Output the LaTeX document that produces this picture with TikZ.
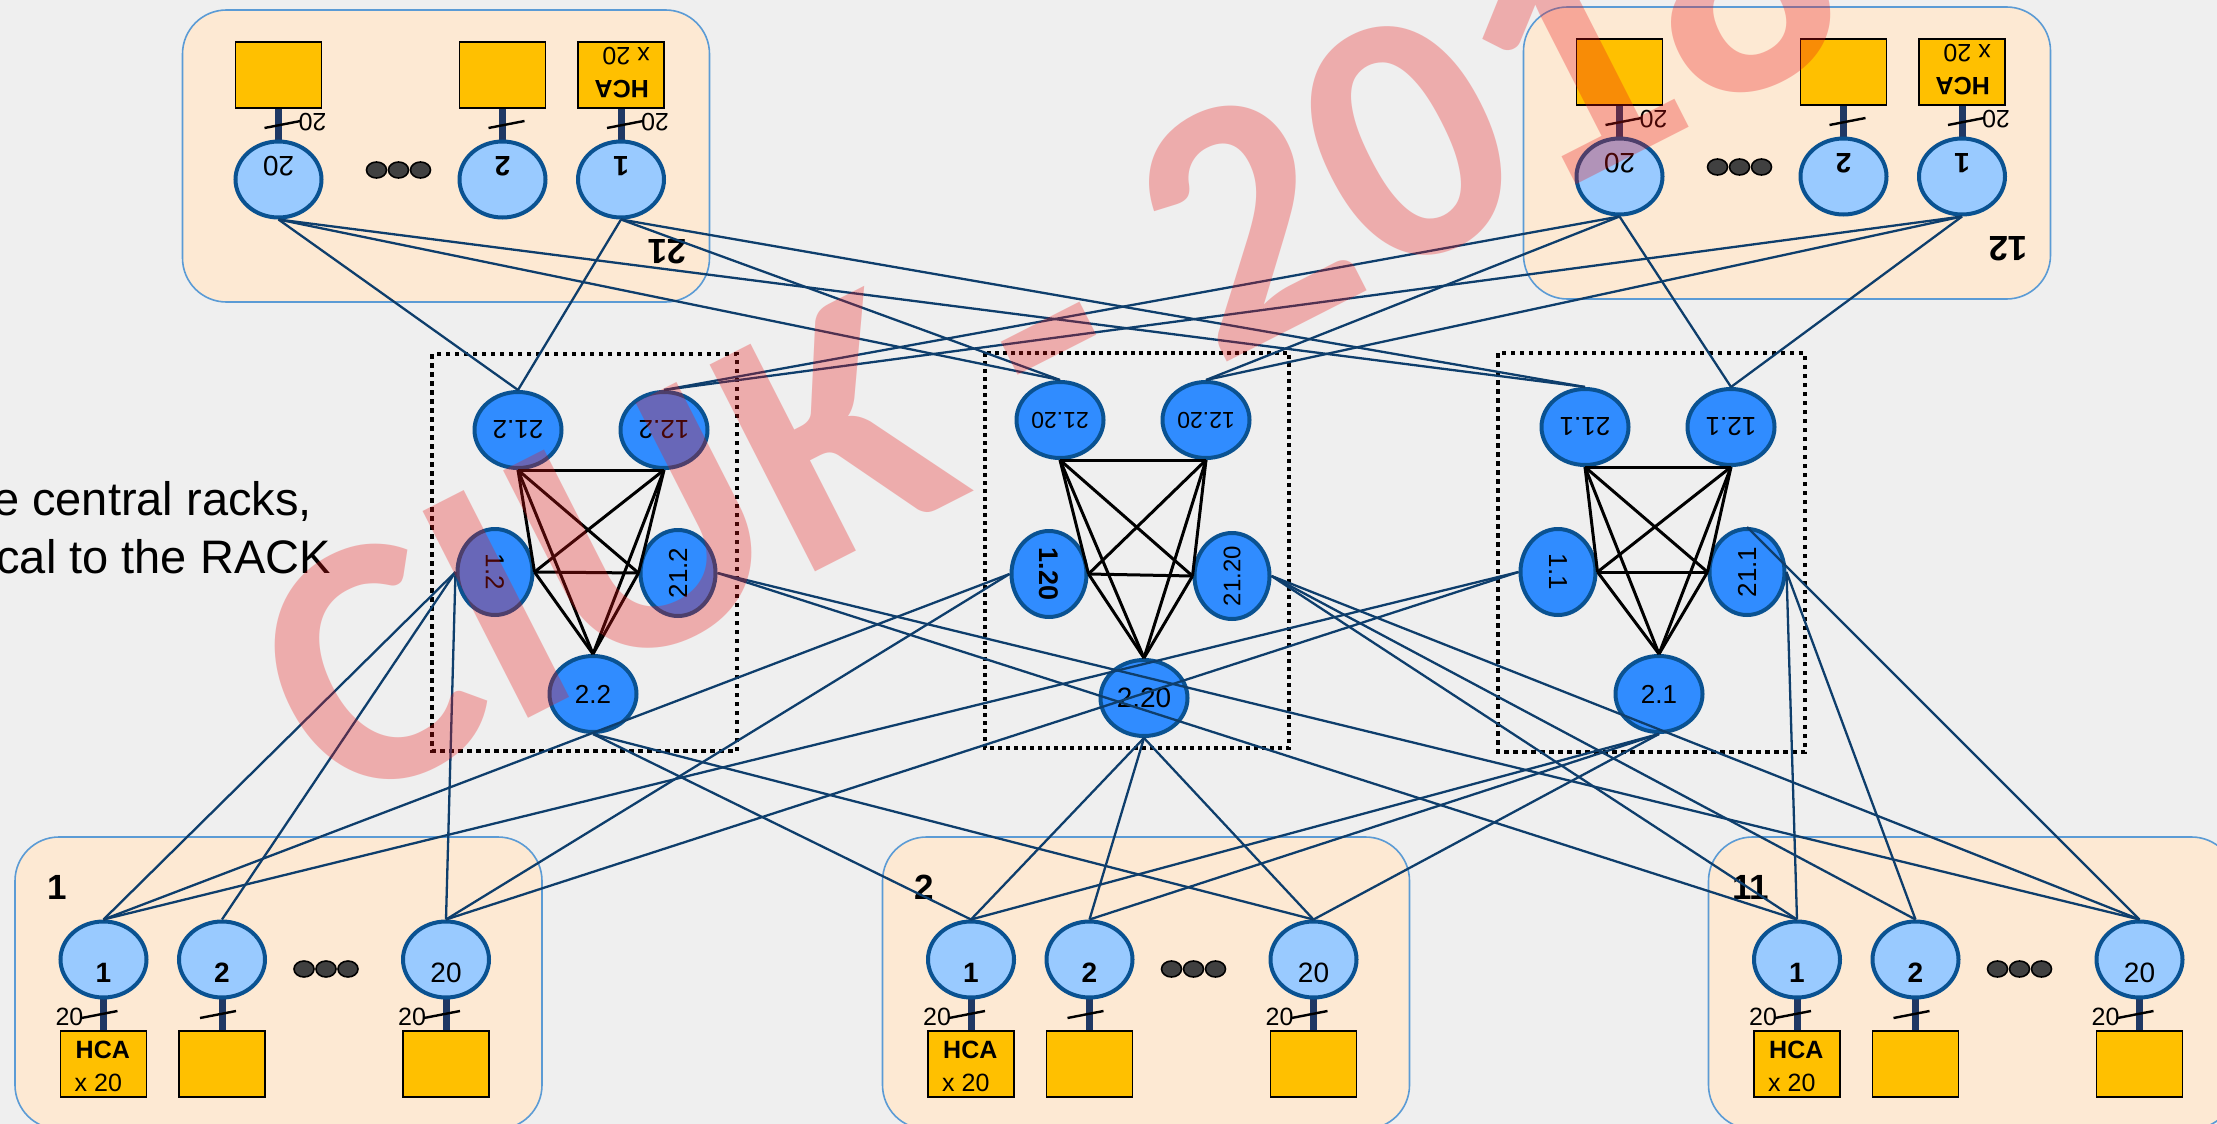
\documentclass[tikz,border=0pt]{standalone}
\usepackage{fontspec}
\setmainfont{Liberation Sans}
\newfontfamily\wmfont{Carlito}
\usetikzlibrary{shapes.geometric}

\definecolor{bgc}{RGB}{239,239,239}
\definecolor{rackfill}{RGB}{253,233,211}
\definecolor{rackline}{RGB}{91,155,213}
\definecolor{hostfill}{RGB}{153,202,255}
\definecolor{nodeline}{RGB}{10,82,145}
\definecolor{spinefill}{RGB}{48,140,255}
\definecolor{link}{RGB}{14,62,108}
\definecolor{stem}{RGB}{31,56,100}
\definecolor{hca}{RGB}{255,192,0}
\definecolor{dotfill}{RGB}{64,64,64}
\definecolor{wmred}{RGB}{235,20,20}

\tikzset{
  rackbox/.style={draw=rackline, line width=1.6pt, fill=rackfill, rounded corners=44pt},
  hostnode/.style={ellipse, draw=nodeline, line width=4pt, fill=hostfill,
                   minimum width=86pt, minimum height=76pt, inner sep=0pt},
  hostlab/.style={font=\fontsize{28}{28}\selectfont, inner sep=0pt},
  hostlabb/.style={font=\fontsize{28}{28}\selectfont\bfseries, inner sep=0pt},
  stemline/.style={draw=stem, line width=7pt},
  slashline/.style={draw=black, line width=2.4pt},
  hcabox/.style={rectangle, draw=black, line width=1.8pt, fill=hca,
                 minimum width=86pt, minimum height=66pt, inner sep=0pt},
  smalltxt/.style={font=\fontsize{25}{25}\selectfont, inner sep=0pt},
  smalltxtb/.style={font=\fontsize{25}{25}\selectfont\bfseries, inner sep=0pt},
  rackname/.style={font=\fontsize{35}{35}\selectfont\bfseries, inner sep=0pt},
  dotnode/.style={ellipse, draw=black, line width=1.6pt, fill=dotfill,
                  minimum width=20pt, minimum height=16pt, inner sep=0pt},
  spineh/.style={ellipse, draw=nodeline, line width=4pt, fill=spinefill,
                 minimum width=87pt, minimum height=76pt, inner sep=0pt},
  spinev/.style={spineh, minimum width=75pt, minimum height=86pt},
  spinelab/.style={font=\fontsize{26}{26}\selectfont, inner sep=0pt},
  mesh/.style={draw=black, line width=3pt},
  uplink/.style={draw=link, line width=2.3pt},
  podframe/.style={draw=black, line width=4.5pt, dash pattern=on 4.5pt off 4.5pt},
  sidetext/.style={font=\fontsize{47}{47}\selectfont, inner sep=0pt, anchor=base east},
}

% One rack of hosts: #1 name prefix, #2/#3 centre, #4 rotation, #5 rack number
\newcommand\hostrack[5]{%
  \begin{scope}[shift={(#2,#3)}, rotate=#4, transform shape]
    \draw[rackbox] (-263.5,-146) rectangle (263.5,146);
    \node[rackname] (#1name) at (-221.5,-96) {#5};
    \foreach \k/\hx in {1/-175,2/-56.5,20/167.5}{%
      \draw[stemline] (\hx,10) -- (\hx,49);
      \node[hostnode] (#1n\k) at (\hx,-23.5) {};
      \node[hcabox] (#1b\k) at (\hx,81) {};
      \draw[slashline] (\hx-22,35) -- (\hx+14,28);
    }
    \node[hostlabb] at (-175,-10.5) {1};
    \node[hostlabb] at (-56.5,-10.5) {2};
    \node[hostlab] at (167.5,-10.5) {20};
    \node[smalltxt] at (-209,34) {20};
    \node[smalltxt] at (133.5,34) {20};
    \node[smalltxtb, anchor=west] at (-203,67) {HCA};
    \node[smalltxt, anchor=west] at (-204,100) {x 20};
    \foreach \dx in {25.5,47.5,69.5}{\node[dotnode] at (\dx,-14) {};}
  \end{scope}}

\begin{document}
\begin{tikzpicture}[x=1pt, y=-1pt]
\useasboundingbox (0,0) rectangle (2217,1124);
\clip (0,0) rectangle (2217,1124);
\fill[bgc] (0,0) rectangle (2217,1124);

% text at the left margin
\node[sidetext] (note1) at (312,515) {e central racks,};
\node[sidetext] (note2) at (331,573) {cal to the RACK};

% central switch groups
\draw[podframe] (432,354) rectangle (737,751);
\draw[podframe, line width=3.6pt, dash pattern=on 3.6pt off 4.4pt] (985,353) rectangle (1289,748);
\draw[podframe] (1498,353) rectangle (1805,752);

% host racks
\hostrack{r1}{278.5}{983}{0}{1}
\hostrack{r2}{1146}{983}{0}{2}
\hostrack{r11}{1972}{983}{0}{11}
\hostrack{r21}{446}{156}{180}{21}
\hostrack{r12}{1787}{153}{180}{12}

% group A
\node[spineh] (sA21) at (518,430) {};
\node[spinelab, rotate=180] at (sA21) {21.2};
\node[spineh] (sA12) at (664,430) {};
\node[spinelab, rotate=180] at (sA12) {12.2};
\node[spinev] (sA1) at (495,572) {};
\node[spinelab, rotate=-90] at (sA1) {1.2};
\node[spinev] (sA11) at (678,573) {};
\node[spinelab, rotate=90] at (sA11) {21.2};
\node[spineh] (sA2) at (593,694) {};
\node[spinelab] at (sA2) {2.2};

% group B
\node[spineh] (sB21) at (1060,420) {};
\node[spinelab, rotate=180, font=\fontsize{23}{23}\selectfont] at (sB21) {21.20};
\node[spineh] (sB12) at (1206,420) {};
\node[spinelab, rotate=180, font=\fontsize{23}{23}\selectfont] at (sB12) {12.20};
\node[spinev] (sB1) at (1049,574) {};
\node[spinelab, rotate=-90, font=\fontsize{27}{27}\selectfont\bfseries] at (sB1) {1.20};
\node[spinev] (sB11) at (1232,576) {};
\node[spinelab, rotate=90, font=\fontsize{24}{24}\selectfont] at (sB11) {21.20};
\node[spineh] (sB2) at (1144,698) {};
\node[spinelab, font=\fontsize{28}{28}\selectfont] at (sB2) {2.20};

% group C
\node[spineh] (sC21) at (1585,427) {};
\node[spinelab, rotate=180] at (sC21) {21.1};
\node[spineh] (sC12) at (1731,427) {};
\node[spinelab, rotate=180] at (sC12) {12.1};
\node[spinev] (sC1) at (1558,572) {};
\node[spinelab, rotate=-90] at (sC1) {1.1};
\node[spinev] (sC11) at (1747,572) {};
\node[spinelab, rotate=90] at (sC11) {21.1};
\node[spineh] (sC2) at (1659,694) {};
\node[spinelab] at (sC2) {2.1};

% rack uplinks
\foreach \b in {A,B,C}{
  \draw[uplink] (r21n1.north) -- (s\b21.north);
  \draw[uplink] (r21n20.north) -- (s\b21.north);
  \draw[uplink] (r12n1.north) -- (s\b12.north);
  \draw[uplink] (r12n20.north) -- (s\b12.north);
  \draw[uplink] (r1n1.north) -- (s\b1.west);
  \draw[uplink] (r1n20.north) -- (s\b1.west);
  \draw[uplink] (r2n1.north) -- (s\b2.south);
  \draw[uplink] (r2n20.north) -- (s\b2.south);
  \draw[uplink] (r11n1.north) -- (s\b11.east);
}
\draw[uplink] (r11n20.north) -- (sA11.east);
\draw[uplink] (r11n20.north) -- (sB11.east);
\draw[uplink] (r11n20.north) -- (sC11.north);
\draw[uplink] (r1n2.north) -- (sA1.west);
\draw[uplink] (r2n2.north) -- (sB2.south);
\draw[uplink] (r2n2.north) -- (sC2.south);
\draw[uplink] (r11n2.north) -- (sB11.east);
\draw[uplink] (r11n2.north) -- (sC11.east);

% full mesh inside each group
\foreach \b in {A,B,C}{
  \draw[mesh] (s\b21.south) -- (s\b12.south);
  \draw[mesh] (s\b21.south) -- (s\b1.east);
  \draw[mesh] (s\b21.south) -- (s\b11.west);
  \draw[mesh] (s\b21.south) -- (s\b2.north);
  \draw[mesh] (s\b12.south) -- (s\b1.east);
  \draw[mesh] (s\b12.south) -- (s\b11.west);
  \draw[mesh] (s\b12.south) -- (s\b2.north);
  \draw[mesh] (s\b1.east) -- (s\b11.west);
  \draw[mesh] (s\b1.east) -- (s\b2.north);
  \draw[mesh] (s\b11.west) -- (s\b2.north);
}

% watermark
\node[rotate=27, text=wmred, text opacity=0.3, inner sep=0pt,
      font=\wmfont\bfseries\fontsize{358}{358}\selectfont] (wm) at (1045,318) {CIUK - 2018};
\end{tikzpicture}
\end{document}
